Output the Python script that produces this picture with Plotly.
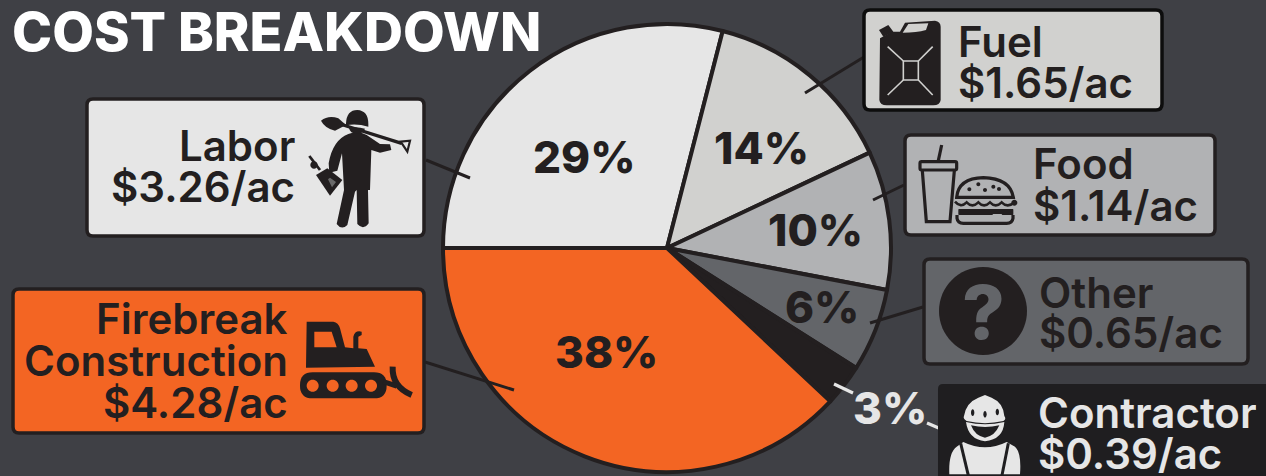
import re
import plotly.graph_objects as go

W, H = 1266, 476

# Cost data
categories = ["Labor", "Fuel", "Food", "Other", "Contractor", "Firebreak Construction"]
shares = [29, 14, 10, 6, 3, 38]
cost_per_acre = [3.26, 1.65, 1.14, 0.65, 0.39, 4.28]
title_text = "COST BREAKDOWN"

# Palette
BG = "#3f4045"
INK = "#231f20"
LIGHT = "#e6e6e6"
slice_colors = ["#e6e6e6", "#d1d1cf", "#b1b2b4", "#636569", "#231f20", "#f36523"]
FONT = "Inter"


def px(x):
    return x / W


def py(y):
    return 1 - y / H


def to_paper(path, ox=0, oy=0, k=1.0):
    """Convert an 'M x y L x y ...' pixel path to paper coordinates."""
    parts = re.findall(r"[MLQCZ]|-?\d+\.?\d*", path)
    out, is_x = [], True
    for p in parts:
        if p.isalpha():
            out.append(p)
            is_x = True
        else:
            v = float(p)
            if is_x:
                out.append(f"{px(ox + v * k):.6f}")
            else:
                out.append(f"{py(oy + v * k):.6f}")
            is_x = not is_x
    return " ".join(out)


shapes = []


def add_path(path, fill=None, stroke=None, lw=0, ox=0, oy=0, k=1.0):
    shapes.append(dict(
        type="path", xref="paper", yref="paper", layer="above",
        path=to_paper(path, ox, oy, k),
        fillcolor=fill if fill else "rgba(0,0,0,0)",
        line=dict(color=stroke if stroke else "rgba(0,0,0,0)", width=lw),
    ))


def rounded(x0, y0, x1, y1, r):
    return (f"M {x0 + r} {y0} L {x1 - r} {y0} Q {x1} {y0} {x1} {y0 + r} "
            f"L {x1} {y1 - r} Q {x1} {y1} {x1 - r} {y1} L {x0 + r} {y1} "
            f"Q {x0} {y1} {x0} {y1 - r} L {x0} {y0 + r} Q {x0} {y0} {x0 + r} {y0} Z")


def ellipse(cx, cy, rx, ry):
    c = 0.5523
    return (f"M {cx - rx} {cy} C {cx - rx} {cy - c * ry} {cx - c * rx} {cy - ry} {cx} {cy - ry} "
            f"C {cx + c * rx} {cy - ry} {cx + rx} {cy - c * ry} {cx + rx} {cy} "
            f"C {cx + rx} {cy + c * ry} {cx + c * rx} {cy + ry} {cx} {cy + ry} "
            f"C {cx - c * rx} {cy + ry} {cx - rx} {cy + c * ry} {cx - rx} {cy} Z")


def segment(x0, y0, x1, y1):
    return f"M {x0} {y0} L {x1} {y1}"


# Leader lines from each card to its slice
for seg in [(426, 160, 470, 178), (425, 362, 514, 390), (864, 57, 805, 93),
            (904, 185, 873, 200), (923, 307, 870, 323)]:
    add_path(segment(*seg), stroke=INK, lw=3)
for seg in [(834, 384, 853, 393), (927, 423, 941, 429)]:
    add_path(segment(*seg), stroke=LIGHT, lw=3.2)

# Cards
add_path(rounded(87, 99, 424, 236, 6), fill=slice_colors[0], stroke=INK, lw=3.5)
add_path(rounded(864, 10, 1162, 110, 6), fill=slice_colors[1], stroke="#0d0d0d", lw=3.5)
add_path(rounded(905, 135, 1215, 235, 6), fill=slice_colors[2], stroke=INK, lw=3.5)
add_path(rounded(924, 259, 1248, 364, 6), fill=slice_colors[3], stroke=INK, lw=3.5)
add_path(rounded(938, 384, 1290, 500, 5), fill="#1f1e20")
add_path(rounded(13, 289, 424, 433, 6), fill=slice_colors[5], stroke=INK, lw=3.5)

# Worker with shovel and blower
o = dict(ox=300, oy=100, k=1 / 3)
add_path("M 145 102 Q 175 92 200 105 L 240 132 L 270 133 L 274 150 L 240 158 L 214 150 L 210 270 "
         "L 204 270 L 206 370 Q 190 392 172 372 L 170 270 L 165 275 L 142 375 Q 125 392 110 372 "
         "L 132 270 L 126 160 L 112 212 L 88 218 L 86 190 Q 98 120 145 102 Z", fill=INK, **o)
add_path("M 120 72 L 305 130", stroke=INK, lw=3.4, **o)
add_path("M 63 62 Q 85 45 115 55 L 138 75 L 105 92 Q 75 85 63 62 Z", fill=INK, **o)
add_path("M 302 125 L 330 122 L 322 155 Z", stroke=INK, lw=2.2, **o)
add_path("M 138 70 Q 140 30 172 30 Q 205 32 205 72 L 205 80 Q 170 70 138 76 Z", fill=INK, **o)
add_path("M 147 84 Q 170 78 195 86 Q 190 100 170 102 Q 150 100 147 84 Z", fill=INK, **o)
add_path("M 48 225 L 82 205 L 127 240 L 90 287 Z", fill=INK, **o)
add_path("M 84 238 L 90 233 L 108 246 L 96 262 Z", fill="#6a6a6a", **o)
add_path("M 28 168 L 60 210", stroke=INK, lw=2.8, **o)
add_path(ellipse(42, 195, 11, 11), fill=INK, **o)

# Bulldozer
o = dict(ox=0, oy=270, k=1 / 3)
add_path("M 920 155 L 1000 155 Q 1015 157 1020 175 L 1035 232 L 1060 235 L 1060 200 Q 1065 180 1085 185 "
         "L 1085 195 L 1075 200 L 1075 235 L 1100 237 L 1125 290 L 918 293 Z", fill=INK, **o)
add_path("M 943 185 L 995 185 L 1010 232 L 943 232 Z", fill=slice_colors[5], **o)
add_path(rounded(900, 307, 1160, 385, 38), fill=INK, **o)
for cx in (938, 998, 1055, 1113):
    add_path(ellipse(cx, 347, 18, 18), fill=slice_colors[5], **o)
add_path("M 1178 290 Q 1175 350 1235 375", stroke=INK, lw=6, **o)
add_path("M 1150 335 L 1190 348", stroke=INK, lw=5, **o)

# Jerry can
o = dict(ox=850, oy=0, k=1 / 3)
add_path("M 90 115 L 125 95 L 150 95 L 165 68 L 255 62 Q 272 65 272 80 L 272 300 Q 270 316 250 316 "
         "L 110 316 Q 90 316 88 300 Z", fill=INK, **o)
add_path("M 158 98 L 175 72 L 235 70 L 228 90 Q 200 98 158 98 Z", fill=slice_colors[1], **o)
add_path("M 87 90 L 115 75 L 130 95 L 100 110 Z", fill=INK, **o)
add_path("M 160 183 L 205 183 L 205 240 L 160 240 Z", stroke="#d1d1cf", lw=1.6, **o)
for seg in [(113, 140, 160, 183), (248, 140, 205, 183), (160, 240, 113, 285), (205, 240, 248, 285)]:
    add_path(segment(*seg), stroke="#d1d1cf", lw=1.6, **o)

# Drink and burger
o = dict(ox=915, oy=140, k=1 / 3)
add_path("M 80 15 L 70 62", stroke=INK, lw=3.2, **o)
add_path(rounded(15, 65, 125, 90, 5), stroke=INK, lw=3.2, **o)
add_path("M 22 92 L 34 245 L 105 245 L 118 92", stroke=INK, lw=3.2, **o)
add_path("M 125 172 Q 130 115 205 113 Q 285 115 295 172 Z", stroke=INK, lw=3.2, **o)
for cx, cy in [(163, 148), (190, 133), (210, 150), (235, 140), (252, 147)]:
    add_path(ellipse(cx, cy, 6, 6), fill=INK, **o)
add_path("M 120 185 Q 137 205 155 187 Q 172 205 190 187 Q 207 205 225 187 Q 242 205 260 187 Q 277 205 300 187",
         stroke=INK, lw=2.6, **o)
add_path(rounded(130, 207, 295, 225, 2), fill=INK, **o)
add_path(ellipse(298, 188, 9, 9), fill=INK, **o)
add_path("M 126 225 L 126 235 Q 128 250 145 250 L 275 250 Q 292 250 294 235 L 294 225", stroke=INK, lw=3.2, **o)
add_path("M 232 222 L 262 222 L 247 240 Z", fill=slice_colors[2], **o)

# Question-mark disc
add_path(ellipse(983, 311, 44, 44), fill=INK)

# Smiling contractor
o = dict(ox=940, oy=386, k=1 / 3)
add_path("M 72 90 Q 78 50 115 35 L 135 27 L 155 35 Q 190 50 193 90 Q 200 100 190 105 Q 135 118 80 105 "
         "Q 68 98 72 90 Z", fill=LIGHT, **o)
for cx, cy in [(98, 80), (135, 85), (172, 78)]:
    add_path(ellipse(cx, cy, 5, 10), fill="#1f1e20", **o)
add_path("M 78 108 Q 135 122 193 108 Q 190 160 135 166 Q 85 160 78 108 Z", fill=LIGHT, **o)
add_path("M 93 118 Q 135 128 178 118 Q 165 150 135 155 Q 105 150 93 118 Z", fill="#1f1e20", **o)
add_path("M 28 265 Q 25 200 50 182 L 70 168 Q 135 200 200 168 L 225 182 Q 245 200 240 265 Z", fill=LIGHT, **o)
add_path("M 62 172 L 85 268", stroke="#1f1e20", lw=3, **o)
add_path("M 205 172 L 186 268", stroke="#1f1e20", lw=3, **o)

annotations = []


def add_text(x, y, s, size, weight=600, color=INK, anchor="left"):
    # Tight box height keeps the closely stacked lines from claiming each other's space
    annotations.append(dict(
        text=s, x=px(x), y=py(y), xref="paper", yref="paper", showarrow=False,
        xanchor=anchor, yanchor="middle", borderpad=0, borderwidth=0,
        height=round(size * 0.96),
        font=dict(family=FONT, size=size, color=color, weight=weight),
    ))


def money(v):
    return f"${v:.2f}/ac"


add_text(12, 31, title_text, 54, weight=800, color="#ffffff")

# Percent labels
pct_spots = [(584, 157), (761, 148), (815, 230), (822, 307), (890, 408), (606, 352)]
for i, (share, (x, y)) in enumerate(zip(shares, pct_spots)):
    add_text(x, y, f"{share}%", 44, weight=800, color=LIGHT if i == 4 else INK, anchor="center")

# Card labels
SIZE = 42
add_text(295, 145, categories[0], SIZE, anchor="right")
add_text(295, 186, money(cost_per_acre[0]), SIZE, anchor="right")
add_text(958, 41, categories[1], SIZE)
add_text(958, 82, money(cost_per_acre[1]), SIZE)
add_text(1033, 163, categories[2], SIZE)
add_text(1033, 205, money(cost_per_acre[2]), SIZE)
add_text(1039, 292, categories[3], SIZE)
add_text(1039, 332, money(cost_per_acre[3]), SIZE)
add_text(1038, 412, categories[4], SIZE, color=LIGHT)
add_text(1038, 453, money(cost_per_acre[4]), SIZE, color=LIGHT)
first, second = categories[5].split(" ")
add_text(288, 318, first, SIZE, anchor="right")
add_text(288, 360, second, SIZE, anchor="right")
add_text(288, 402, money(cost_per_acre[5]), SIZE, anchor="right")
add_text(983, 311, "?", 74, weight=800, color=slice_colors[3], anchor="center")

cx, cy, r = 667, 248, 224
fig = go.Figure(go.Pie(
    labels=categories,
    values=shares,
    sort=False,
    direction="clockwise",
    rotation=270,
    textinfo="none",
    marker=dict(colors=slice_colors, line=dict(color=INK, width=4)),
    domain=dict(x=[px(cx - r), px(cx + r)], y=[py(cy + r), py(cy - r)]),
    showlegend=False,
))
fig.update_layout(
    width=W, height=H, autosize=False,
    margin=dict(l=0, r=0, t=0, b=0),
    paper_bgcolor=BG, plot_bgcolor=BG,
    shapes=shapes, annotations=annotations,
)
fig.write_html("out.html", config=dict(displayModeBar=False))
